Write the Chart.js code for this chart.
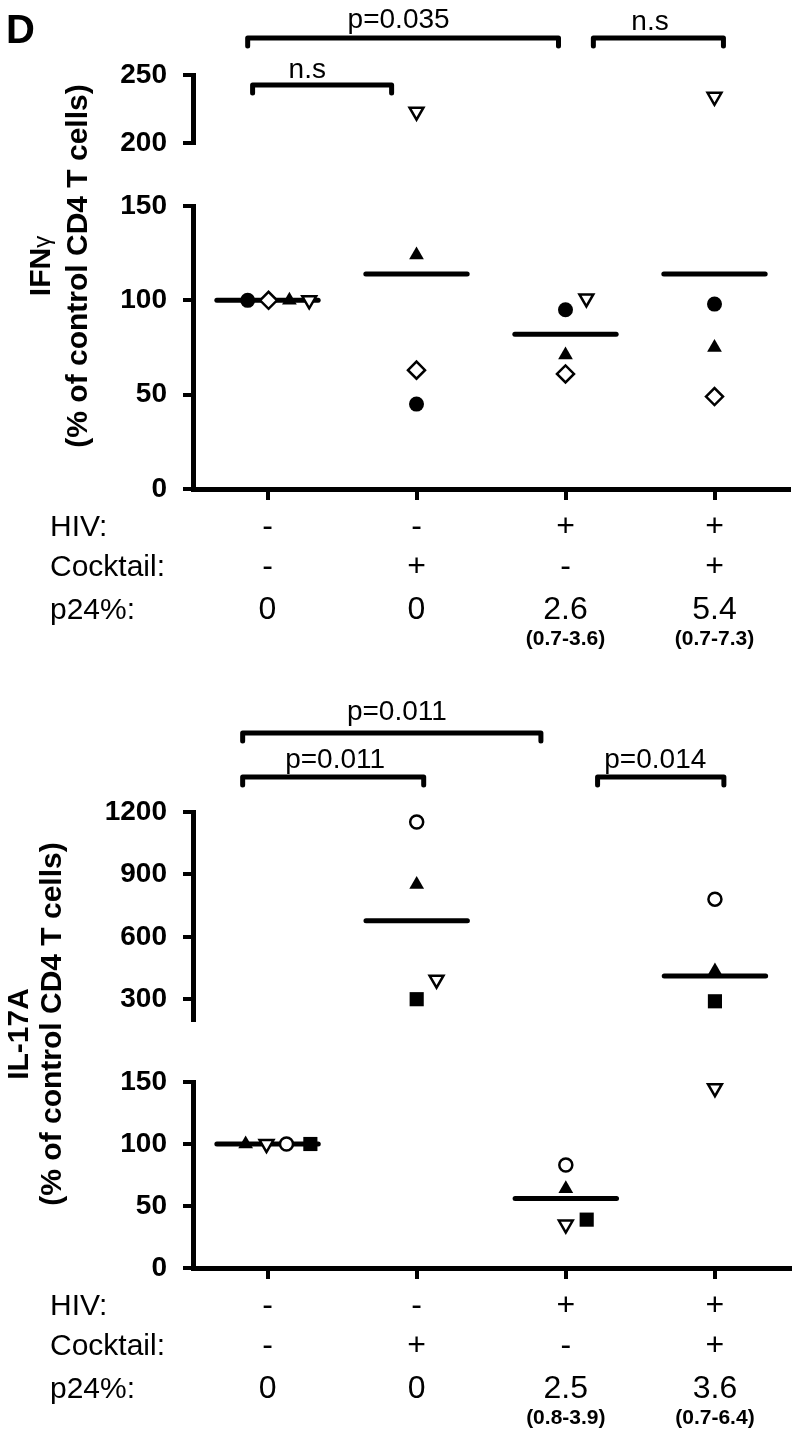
<!DOCTYPE html>
<html>
<head>
<meta charset="utf-8">
<script src="https://cdn.jsdelivr.net/npm/chart.js@4"></script>
<style>
  body { margin: 0; background: #fff; }
  #wrap { position: relative; width: 800px; height: 1434px; }
  canvas { position: absolute; left: 0; }
</style>
</head>
<body>
<div id="wrap">
  <canvas id="ifnChart" width="800" height="660" style="top:0px"></canvas>
  <canvas id="ilChart" width="800" height="774" style="top:660px"></canvas>
</div>
<script>
// ---- data ----
var groups = [1, 2, 3, 4];
var rowLabels = ['HIV:', 'Cocktail:', 'p24%:'];
var hivRow = ['-', '-', '+', '+'];
var cocktailRow = ['-', '+', '-', '+'];

// IFNγ panel
var ifnCircle   = [100, 45, 95, 98];
var ifnDiamond  = [100, 63, 61, 49];
var ifnTriangle = [100, 124, 71, 75];
var ifnDownTri  = [100, 223, 101, 234];
var ifnMean     = [100, 114, 82, 114];
var ifnP24      = ['0', '0', '2.6', '5.4'];
var ifnP24Range = ['', '', '(0.7-3.6)', '(0.7-7.3)'];
var ifnTests    = ['n.s', 'p=0.035', 'n.s'];
var ifnPairs    = [[1, 2], [1, 3], [3, 4]];
var ifnLowTicks  = [0, 50, 100, 150];
var ifnHighTicks = [200, 250];

// IL-17A panel
var ilTriangle = [100, 851, 64, 435];
var ilDownTri  = [100, 394, 35, 145];
var ilCircle   = [100, 1152, 83, 781];
var ilSquare   = [100, 300, 39, 290];
var ilMean     = [100, 677, 56, 411];
var ilP24      = ['0', '0', '2.5', '3.6'];
var ilP24Range = ['', '', '(0.8-3.9)', '(0.7-6.4)'];
var ilTests    = ['p=0.011', 'p=0.011', 'p=0.014'];
var ilPairs    = [[1, 3], [1, 2], [3, 4]];
var ilLowTicks  = [0, 50, 100, 150];
var ilHighTicks = [300, 600, 900, 1200];

// ---- styling ----
var FONT = '"Liberation Sans", Arial, sans-serif';
var AXIS_X = 193;
var ROW_OFFSETS = [47, 87, 130];
var RANGE_OFFSET = 156;

var markerStyles = {
  dot:     {pointStyle: 'circle',   pointRadius: 7.5, pointBackgroundColor: '#000', pointBorderColor: '#000', pointBorderWidth: 0},
  ring:    {pointStyle: 'circle',   pointRadius: 6.5, pointBackgroundColor: '#fff', pointBorderColor: '#000', pointBorderWidth: 2.5},
  diamond: {pointStyle: 'rectRot',  pointRadius: 8.5, pointBackgroundColor: '#fff', pointBorderColor: '#000', pointBorderWidth: 2.5},
  tri:     {pointStyle: 'triangle', pointRadius: 8.5, pointBackgroundColor: '#000', pointBorderColor: '#000', pointBorderWidth: 0},
  downTri: {pointStyle: 'triangle', pointRadius: 8, pointRotation: 180, pointBackgroundColor: '#fff', pointBorderColor: '#000', pointBorderWidth: 2.5},
  square:  {pointStyle: 'rect',     pointRadius: 10,  pointBackgroundColor: '#000', pointBorderColor: '#000', pointBorderWidth: 0}
};

Chart.defaults.font.family = FONT;

function yAxis(ticks, min, max, weight, stackWeight) {
  return {
    type: 'linear', axis: 'y', position: 'left', stack: 'left',
    stackWeight: stackWeight, weight: weight, min: min, max: max,
    afterBuildTicks: function (s) { s.ticks = ticks.map(function (v) { return {value: v}; }); },
    afterFit: function (s) { s.width = AXIS_X; },
    grid: {drawOnChartArea: false, tickLength: 10, tickWidth: 4, tickColor: '#000', lineWidth: 4, color: '#000'},
    border: {display: true, width: 5, color: '#000'},
    ticks: {
      autoSkip: false, color: '#000', padding: 16,
      font: {size: 28, weight: 'bold'},
      callback: function (v) { return String(v); }
    }
  };
}

function buildChart(canvasId, p) {
  var datasets = [];

  // group means as short thick lines
  p.means.forEach(function (m, i) {
    var g = groups[i];
    datasets.push({
      data: [{x: g - 0.34, y: m}, {x: g + 0.34, y: m}],
      yAxisID: m > p.cut ? 'yHigh' : 'yLow',
      showLine: true, borderColor: '#000', borderWidth: 5, borderCapStyle: 'round',
      pointRadius: 0, order: 2, clip: false
    });
  });

  // individual donors, split across the broken axis
  p.series.forEach(function (s) {
    var low = [], high = [];
    s.values.forEach(function (v, i) {
      (v > p.cut ? high : low).push({x: groups[i] + s.dodge[i], y: v});
    });
    [['yLow', low], ['yHigh', high]].forEach(function (part) {
      if (!part[1].length) return;
      datasets.push(Object.assign({data: part[1], yAxisID: part[0], order: 1, clip: false}, markerStyles[s.marker]));
    });
  });

  var figurePlugin = {
    id: 'figure',
    afterDraw: function (chart) {
      var ctx = chart.ctx, xs = chart.scales.x, base = chart.chartArea.bottom;
      ctx.save();
      ctx.fillStyle = '#000';
      ctx.strokeStyle = '#000';
      ctx.textBaseline = 'alphabetic';

      if (p.letter) {
        ctx.font = 'bold 40px ' + FONT;
        ctx.textAlign = 'left';
        ctx.fillText(p.letter, 6, 43);
      }

      // significance brackets
      ctx.lineWidth = 5;
      ctx.lineCap = 'round';
      ctx.lineJoin = 'round';
      p.pairs.forEach(function (pair, i) {
        var x1 = xs.getPixelForValue(pair[0] + p.bracketPad[i][0]);
        var x2 = xs.getPixelForValue(pair[1] + p.bracketPad[i][1]);
        var y = p.bracketY[i];
        ctx.beginPath();
        ctx.moveTo(x1, y + 8);
        ctx.lineTo(x1, y);
        ctx.lineTo(x2, y);
        ctx.lineTo(x2, y + 8);
        ctx.stroke();
        ctx.font = '28px ' + FONT;
        ctx.textAlign = 'center';
        ctx.fillText(p.tests[i], xs.getPixelForValue(p.labelX[i]), p.labelY[i]);
      });

      // condition table under the x axis
      ctx.font = '30px ' + FONT;
      ctx.textAlign = 'left';
      rowLabels.forEach(function (t, r) { ctx.fillText(t, 50, base + ROW_OFFSETS[r]); });
      ctx.textAlign = 'center';
      ctx.font = '32px ' + FONT;
      [hivRow, cocktailRow, p.p24].forEach(function (row, r) {
        row.forEach(function (t, i) {
          ctx.fillText(t, xs.getPixelForValue(groups[i]), base + ROW_OFFSETS[r]);
        });
      });
      ctx.font = 'bold 21px ' + FONT;
      p.p24Range.forEach(function (t, i) {
        if (t) ctx.fillText(t, xs.getPixelForValue(groups[i]), base + RANGE_OFFSET);
      });

      // rotated y titles
      ctx.save();
      ctx.translate(p.titleX[0], p.titleY[0]);
      ctx.rotate(-Math.PI / 2);
      ctx.textAlign = 'left';
      ctx.font = 'bold 30px ' + FONT;
      var w1 = ctx.measureText(p.title).width, w2 = 0;
      if (p.titleGreek) {
        ctx.font = '24px ' + FONT;
        w2 = ctx.measureText(p.titleGreek).width;
      }
      ctx.font = 'bold 30px ' + FONT;
      ctx.fillText(p.title, -(w1 + w2) / 2, 0);
      if (p.titleGreek) {
        ctx.font = '24px ' + FONT;
        ctx.fillText(p.titleGreek, -(w1 + w2) / 2 + w1, 0);
      }
      ctx.restore();

      ctx.save();
      ctx.translate(p.titleX[1], p.titleY[1]);
      ctx.rotate(-Math.PI / 2);
      ctx.textAlign = 'center';
      ctx.font = 'bold 30px ' + FONT;
      ctx.fillText('(% of control CD4 T cells)', 0, 0);
      ctx.restore();

      ctx.restore();
    }
  };

  var canvas = document.getElementById(canvasId);
  return new Chart(canvas, {
    type: 'scatter',
    data: {datasets: datasets},
    options: {
      responsive: false,
      animation: false,
      events: [],
      layout: {padding: {top: p.areaTop, right: 7, left: 0, bottom: 0}},
      plugins: {legend: {display: false}, tooltip: {enabled: false}},
      scales: {
        x: {
          type: 'linear', position: 'bottom', min: 0.5, max: 4.5,
          afterBuildTicks: function (s) { s.ticks = groups.map(function (g) { return {value: g}; }); },
          afterFit: function (s) { s.height = canvas.height - p.axisY; },
          grid: {drawOnChartArea: false, tickLength: 11, tickWidth: 4, tickColor: '#000', lineWidth: 4, color: '#000'},
          border: {display: true, width: 5, color: '#000'},
          ticks: {display: false}
        },
        yHigh: yAxis(p.highTicks, p.highMin, p.highMax, 2, p.weights[0]),
        yGap: {
          type: 'linear', axis: 'y', position: 'left', stack: 'left',
          stackWeight: p.weights[1], weight: 1,
          afterFit: function (s) { s.width = AXIS_X; },
          grid: {display: false}, border: {display: false}, ticks: {display: false}
        },
        yLow: yAxis(p.lowTicks, 0, 150, 0, p.weights[2])
      }
    },
    plugins: [figurePlugin]
  });
}

buildChart('ifnChart', {
  letter: 'D',
  title: 'IFN', titleGreek: 'γ',
  titleX: [50, 87], titleY: [266, 266],
  areaTop: 75, axisY: 489, weights: [68, 63, 283],
  cut: 150, highMin: 200, highMax: 250,
  highTicks: ifnHighTicks, lowTicks: ifnLowTicks,
  means: ifnMean,
  series: [
    {values: ifnCircle,   marker: 'dot',     dodge: [-0.133, 0, 0, 0]},
    {values: ifnDiamond,  marker: 'diamond', dodge: [0.007, 0, 0, 0]},
    {values: ifnTriangle, marker: 'tri',     dodge: [0.147, 0, 0, 0]},
    {values: ifnDownTri,  marker: 'downTri', dodge: [0.28, 0, 0.14, 0]}
  ],
  pairs: ifnPairs, tests: ifnTests,
  bracketPad: [[-0.1, -0.167], [-0.133, -0.047], [0.187, 0.06]],
  bracketY: [85, 38, 38],
  labelX: [1.267, 1.88, 3.567], labelY: [78, 28, 30],
  p24: ifnP24, p24Range: ifnP24Range
});

buildChart('ilChart', {
  title: 'IL-17A',
  titleX: [28, 61], titleY: [374, 364],
  areaTop: 152, axisY: 608, weights: [208, 62, 186],
  cut: 150, highMin: 200, highMax: 1200,
  highTicks: ilHighTicks, lowTicks: ilLowTicks,
  means: ilMean,
  series: [
    {values: ilTriangle, marker: 'tri',     dodge: [-0.147, 0, 0, 0]},
    {values: ilDownTri,  marker: 'downTri', dodge: [-0.007, 0.133, 0, 0]},
    {values: ilCircle,   marker: 'ring',    dodge: [0.127, 0, 0, 0]},
    {values: ilSquare,   marker: 'square',  dodge: [0.287, 0, 0.14, 0]}
  ],
  pairs: ilPairs, tests: ilTests,
  bracketPad: [[-0.167, -0.167], [-0.167, 0.047], [0.213, 0.06]],
  bracketY: [73, 117, 117],
  labelX: [1.867, 1.453, 3.6], labelY: [60, 108, 108],
  p24: ilP24, p24Range: ilP24Range
});
</script>
</body>
</html>
